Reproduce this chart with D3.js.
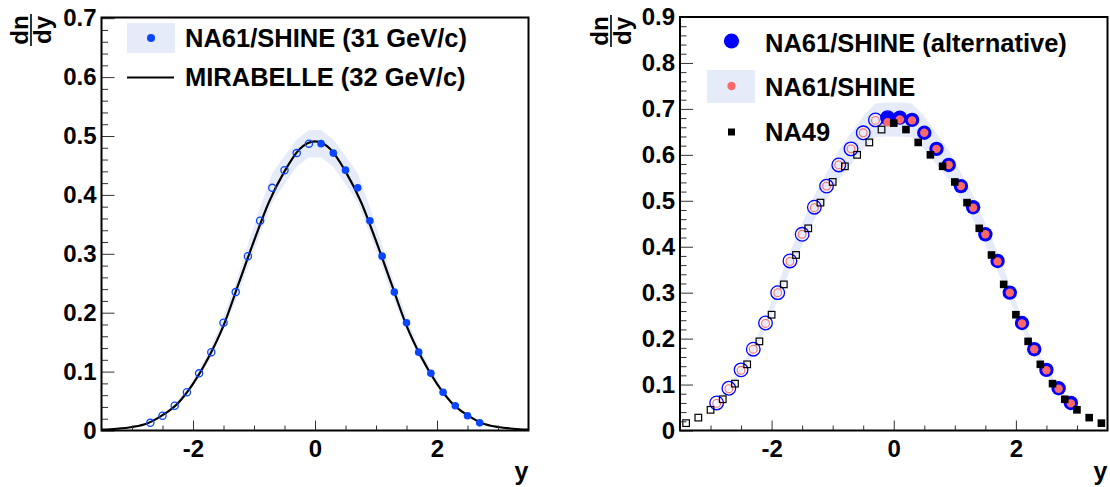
<!DOCTYPE html>
<html><head><meta charset="utf-8">
<script src="https://cdn.jsdelivr.net/npm/d3@7"></script>
<style>
html,body{margin:0;padding:0;background:#fff;}
svg{display:block;}
text{font-family:"Liberation Sans",Arial,Helvetica,sans-serif;font-weight:bold;}
</style></head>
<body>
<svg id="c" width="1110" height="487"></svg>
<script>
// ---------- data ----------
// Left panel: NA61/SHINE 31 GeV/c (measured, y>0) and MIRABELLE 32 GeV/c curve
const leftX = [0.1,0.3,0.5,0.7,0.9,1.1,1.3,1.5,1.7,1.9,2.1,2.3,2.5,2.7];
const leftNA61 = [0.487,0.471,0.442,0.412,0.356,0.296,0.235,0.183,0.133,0.097,0.065,0.042,0.025,0.013];
const leftNA61Err = [0.023,0.023,0.024,0.025,0.023,0.019,0.015,0.011,0.008,0.006,0.004,0.003,0.002,0.001];
const mirX = [-3.5,-3.25,-3.0,-2.75,-2.5,-2.25,-2.0,-1.75,-1.5,-1.25,-1.0,-0.75,-0.5,-0.25,0,0.25,0.5,0.75,1.0,1.25,1.5,1.75,2.0,2.25,2.5,2.75,3.0,3.25,3.5];
const mirVal = [0.0015,0.003,0.006,0.012,0.026,0.046,0.079,0.123,0.178,0.250,0.322,0.389,0.440,0.478,0.491,0.478,0.440,0.389,0.322,0.250,0.178,0.123,0.079,0.046,0.026,0.012,0.006,0.003,0.0015];

// Right panel
const altX = [-0.1,0.1,0.3,0.5,0.7,0.9,1.1,1.3,1.5,1.7,1.9,2.1,2.3,2.5,2.7,2.9];
const altVal = [0.679,0.681,0.676,0.648,0.613,0.578,0.532,0.486,0.427,0.369,0.300,0.234,0.177,0.132,0.092,0.060];
const stdX = [-0.1,0.1,0.3,0.5,0.7,0.9,1.1,1.3,1.5,1.7,1.9,2.1,2.3,2.5,2.7,2.9];
const stdVal = [0.671,0.677,0.675,0.648,0.613,0.578,0.532,0.485,0.427,0.368,0.300,0.233,0.177,0.131,0.091,0.059];
const stdErr = [0.037,0.037,0.037,0.036,0.034,0.032,0.029,0.027,0.024,0.020,0.017,0.013,0.010,0.007,0.005,0.003];
const na49X = [0.0,0.2,0.4,0.6,0.8,1.0,1.2,1.4,1.6,1.8,2.0,2.2,2.4,2.6,2.8,3.0,3.2,3.4];
const na49Val = [0.669,0.655,0.627,0.600,0.575,0.541,0.496,0.440,0.382,0.318,0.252,0.194,0.144,0.102,0.068,0.045,0.028,0.016];

const xMajor = [-2,0,2];
const xMinor = [-3,-2.5,-1.5,-1,-0.5,0.5,1,1.5,2.5,3];
const leftYTicks = [0,0.1,0.2,0.3,0.4,0.5,0.6,0.7];
const rightYTicks = [0,0.1,0.2,0.3,0.4,0.5,0.6,0.7,0.8,0.9];
const leftLegend = ["NA61/SHINE (31 GeV/c)","MIRABELLE (32 GeV/c)"];
const rightLegend = ["NA61/SHINE (alternative)","NA61/SHINE","NA49"];

// ---------- style ----------
const BAND = "#e6ebfa";
const BLUE_L = "#0a46ff";
const BLUE_R = "#0000ff";
const RED = "#ff6868";
const FS = 24;
const LFS = 25.5;

const svg = d3.select("#c");
svg.append("rect").attr("width",1110).attr("height",487).attr("fill","#fff");

function frac(g, x, y){
  const f = g.append("g").attr("transform",`translate(${x},${y}) rotate(-90)`);
  f.append("text").attr("x",0).attr("y",-3).attr("text-anchor","middle").attr("font-size",24).text("dn");
  f.append("line").attr("x1",-16).attr("x2",16).attr("y1",0).attr("y2",0).attr("stroke","#000").attr("stroke-width",1.6);
  f.append("text").attr("x",0).attr("y",20).attr("text-anchor","middle").attr("font-size",24).text("dy");
}

function axes(g, x, y, yTicks, yMinorStep, x0, x1, y0, y1){
  const yMax = y.domain()[1];
  const yMinor = d3.range(0, yMax+1e-9, yMinorStep).filter(v => Math.abs(v*10 - Math.round(v*10))>1e-6);
  g.append("g").attr("transform",`translate(0,${y0})`)
    .call(d3.axisBottom(x).tickValues(xMinor).tickSize(-5).tickFormat(""))
    .call(s=>{s.select(".domain").remove(); s.selectAll("line").attr("stroke","#333");});
  g.append("g").attr("transform",`translate(0,${y0})`)
    .call(d3.axisBottom(x).tickValues(xMajor).tickSize(-10).tickPadding(9).tickFormat(d=>d===0?"0":String(d)))
    .call(s=>{s.select(".domain").remove(); s.selectAll("line").attr("stroke","#333");
      s.selectAll("text").attr("font-size",FS).attr("fill","#000").attr("font-family",null);});
  g.append("g").attr("transform",`translate(${x0},0)`)
    .call(d3.axisLeft(y).tickValues(yMinor).tickSize(-6.5).tickFormat(""))
    .call(s=>{s.select(".domain").remove(); s.selectAll("line").attr("stroke","#333");});
  g.append("g").attr("transform",`translate(${x0},0)`)
    .call(d3.axisLeft(y).tickValues(yTicks).tickSize(-13).tickPadding(5).tickFormat(d=>d===0?"0":d3.format(".1f")(d)))
    .call(s=>{s.select(".domain").remove(); s.selectAll("line").attr("stroke","#333");
      s.selectAll("text").attr("font-size",FS).attr("fill","#000").attr("font-family",null);});
  g.append("rect").attr("x",x0).attr("y",y1).attr("width",x1-x0).attr("height",y0-y1)
    .attr("fill","none").attr("stroke","#000").attr("stroke-width",2);
  g.append("text").attr("x",x1).attr("y",480).attr("text-anchor","end").attr("font-size",FS+1).text("y");
}

// ================= LEFT PANEL =================
{
  const x0=101.5, x1=528.5, y0=430.5, y1=17.5;
  const x = d3.scaleLinear().domain([-3.5,3.5]).range([x0,x1]);
  const y = d3.scaleLinear().domain([0,0.7]).range([y0,18.2]);
  const g = svg.append("g");

  const pts = [];
  leftX.forEach((v,i)=>{ pts.push({x:v,y:leftNA61[i],e:leftNA61Err[i]}); pts.push({x:-v,y:leftNA61[i],e:leftNA61Err[i]}); });
  pts.sort((a,b)=>a.x-b.x);
  g.append("path").datum(pts).attr("fill",BAND)
    .attr("d", d3.area().x(d=>x(d.x)).y0(d=>y(d.y-d.e)).y1(d=>y(d.y+d.e)));

  const cdata = mirX.map((v,i)=>({x:v,y:mirVal[i]}));
  g.append("path").datum(cdata).attr("fill","none").attr("stroke","#000").attr("stroke-width",2.2)
    .attr("d", d3.line().x(d=>x(d.x)).y(d=>y(d.y)).curve(d3.curveMonotoneX));

  g.selectAll("circle.o").data(leftX).join("circle")
    .attr("cx",(d)=>x(-d)).attr("cy",(d,i)=>y(leftNA61[i])).attr("r",3.6)
    .attr("fill","none").attr("stroke",BLUE_L).attr("stroke-width",1.3);
  g.selectAll("circle.f").data(leftX).join("circle")
    .attr("cx",(d)=>x(d)).attr("cy",(d,i)=>y(leftNA61[i])).attr("r",3.8).attr("fill",BLUE_L);

  axes(g, x, y, leftYTicks, 0.02, x0, x1, y0, y1);
  frac(g, 31, 30);

  const lg = g.append("g");
  lg.append("rect").attr("x",127).attr("y",23).attr("width",48).attr("height",30).attr("fill",BAND);
  lg.append("circle").attr("cx",151).attr("cy",38).attr("r",4).attr("fill",BLUE_L);
  lg.append("line").attr("x1",127).attr("x2",174).attr("y1",77.5).attr("y2",77.5).attr("stroke","#000").attr("stroke-width",2.2);
  lg.append("text").attr("x",185).attr("y",46.5).attr("font-size",LFS).text(leftLegend[0]);
  lg.append("text").attr("x",185).attr("y",85.5).attr("font-size",LFS).text(leftLegend[1]);
}

// ================= RIGHT PANEL =================
{
  const x0=680, x1=1107.5, y0=430.5, y1=17;
  const x = d3.scaleLinear().domain([-3.5,3.5]).range([x0,x1]);
  const y = d3.scaleLinear().domain([0,0.9]).range([y0,y1]);
  const g = svg.append("g");

  const pts = [];
  stdX.forEach((v,i)=>{ if(v>0){ pts.push({x:v,y:stdVal[i],e:stdErr[i]}); pts.push({x:-v,y:stdVal[i],e:stdErr[i]}); } });
  pts.sort((a,b)=>a.x-b.x);
  g.append("path").datum(pts).attr("fill",BAND)
    .attr("d", d3.area().x(d=>x(d.x)).y0(d=>y(d.y-d.e)).y1(d=>y(d.y+d.e)));

  const altPos = altX.map((v,i)=>({x:v,y:altVal[i]}));
  const stdPos = stdX.map((v,i)=>({x:v,y:stdVal[i]}));
  g.selectAll("circle.ao").data(altPos.filter(d=>d.x>0)).join("circle")
    .attr("cx",d=>x(-d.x)).attr("cy",d=>y(d.y)).attr("r",6.8)
    .attr("fill","none").attr("stroke",BLUE_R).attr("stroke-width",1.3);
  g.selectAll("circle.so").data(stdPos.filter(d=>d.x>0)).join("circle")
    .attr("cx",d=>x(-d.x)).attr("cy",d=>y(d.y)).attr("r",3.9)
    .attr("fill","none").attr("stroke",RED).attr("stroke-width",1.1);
  g.selectAll("circle.af").data(altPos).join("circle")
    .attr("cx",d=>x(d.x)).attr("cy",d=>y(d.y)).attr("r",7.2).attr("fill",BLUE_R);
  g.selectAll("circle.sf").data(stdPos).join("circle")
    .attr("cx",d=>x(d.x)).attr("cy",d=>y(d.y)).attr("r",4.2).attr("fill",RED);

  const na49 = na49X.map((v,i)=>({x:v,y:na49Val[i]}));
  const S=6.6;
  g.selectAll("rect.no").data(na49.filter(d=>d.x>0)).join("rect")
    .attr("x",d=>x(-d.x)-S/2).attr("y",d=>y(d.y)-S/2).attr("width",S).attr("height",S)
    .attr("fill","none").attr("stroke","#000").attr("stroke-width",1.2);
  g.selectAll("rect.nf").data(na49).join("rect")
    .attr("x",d=>x(d.x)-S/2-0.5).attr("y",d=>y(d.y)-S/2-0.5).attr("width",S+1).attr("height",S+1)
    .attr("fill","#000");

  axes(g, x, y, rightYTicks, 0.02, x0, x1, y0, y1);
  frac(g, 611, 31);

  const lg = g.append("g");
  lg.append("circle").attr("cx",731.5).attr("cy",41).attr("r",7.6).attr("fill",BLUE_R);
  lg.append("rect").attr("x",707).attr("y",70).attr("width",48).attr("height",33).attr("fill",BAND);
  lg.append("circle").attr("cx",731.5).attr("cy",86).attr("r",4.2).attr("fill",RED);
  lg.append("rect").attr("x",728).attr("y",128.5).attr("width",7).attr("height",7).attr("fill","#000");
  lg.append("text").attr("x",765).attr("y",52).attr("font-size",LFS).text(rightLegend[0]);
  lg.append("text").attr("x",765).attr("y",96).attr("font-size",LFS).text(rightLegend[1]);
  lg.append("text").attr("x",765).attr("y",141).attr("font-size",LFS).text(rightLegend[2]);
}
</script>
</body></html>
